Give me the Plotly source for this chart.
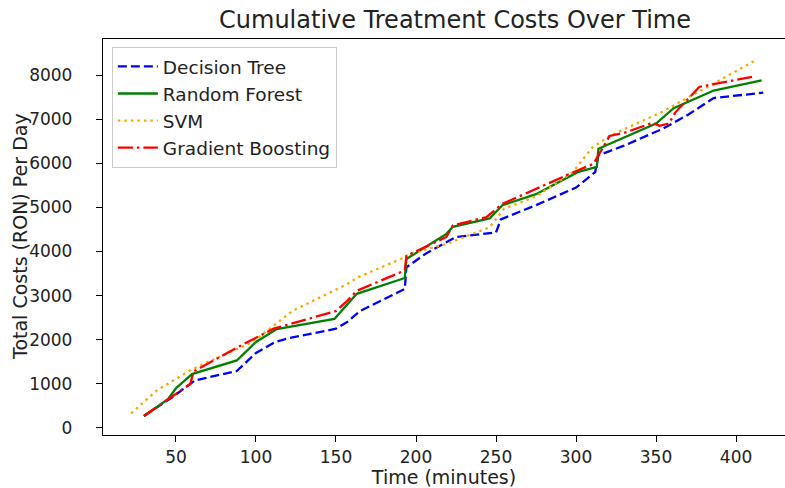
import plotly.graph_objects as go

# Decision Tree
dt_time = [30, 47, 59, 62, 88, 100, 112, 120, 150, 157, 165, 193, 194, 206, 225, 250, 253, 275, 300, 312, 314, 330, 354, 370, 386, 417]
dt_cost = [270, 680, 1000, 1080, 1290, 1700, 1950, 2030, 2250, 2400, 2650, 3150, 3640, 3950, 4330, 4430, 4730, 5050, 5450, 5800, 6180, 6400, 6780, 7100, 7480, 7600]

# Random Forest
rf_time = [30, 45, 50, 60, 88, 100, 113, 149, 163, 193, 194, 219, 223, 246, 254, 275, 301, 313, 314, 350, 361, 386, 416]
rf_cost = [270, 650, 900, 1220, 1530, 1950, 2240, 2470, 3040, 3400, 3830, 4400, 4560, 4750, 5050, 5300, 5800, 5920, 6330, 6900, 7250, 7650, 7880]

# SVM
svm_time = [22, 38, 60, 98, 123, 157, 164, 193, 196, 219, 246, 255, 275, 298, 310, 321, 354, 386, 413]
svm_cost = [330, 850, 1330, 1950, 2660, 3260, 3420, 3870, 3950, 4170, 4550, 4970, 5250, 5800, 6350, 6620, 7170, 7810, 8350]

# Gradient Boosting
gb_time = [30, 50, 59, 61, 88, 111, 150, 157, 163, 193, 194, 219, 223, 244, 254, 296, 311, 321, 331, 348, 352, 358, 362, 377, 384, 410]
gb_cost = [270, 780, 1000, 1280, 1820, 2250, 2650, 2880, 3110, 3570, 3900, 4330, 4590, 4780, 5080, 5760, 5990, 6620, 6700, 6920, 6850, 6900, 7150, 7730, 7780, 7960]

x_ticks = [50, 100, 150, 200, 250, 300, 350, 400]
y_ticks = [0, 1000, 2000, 3000, 4000, 5000, 6000, 7000, 8000]

FONT = "DejaVu Sans"
TXT = "#222222"
LW = 2.3

fig = go.Figure()
fig.add_trace(go.Scatter(x=dt_time, y=dt_cost, mode="lines", name="Decision Tree",
                         line=dict(color="blue", width=LW, dash="9px,4px")))
fig.add_trace(go.Scatter(x=rf_time, y=rf_cost, mode="lines", name="Random Forest",
                         line=dict(color="green", width=LW)))
fig.add_trace(go.Scatter(x=svm_time, y=svm_cost, mode="lines", name="SVM",
                         line=dict(color="orange", width=LW, dash="2.5px,4px")))
fig.add_trace(go.Scatter(x=gb_time, y=gb_cost, mode="lines", name="Gradient Boosting",
                         line=dict(color="red", width=LW, dash="15px,4px,2.5px,4px")))

axis_common = dict(showline=True, linecolor="black", linewidth=1.3,
                   ticks="outside", ticklen=6, tickwidth=1.2, tickcolor="black",
                   showgrid=False, zeroline=False, automargin=False,
                   tickfont=dict(family=FONT, size=17, color=TXT))

fig.update_layout(
    width=785, height=488,
    margin=dict(l=103, r=0, t=39, b=53),
    paper_bgcolor="white", plot_bgcolor="white",
    font=dict(family=FONT, size=17, color=TXT),
    title=dict(text="Cumulative Treatment Costs Over Time", x=(455 - 103) / 682, xref="paper",
               y=1 - 20 / 488, yref="container", yanchor="middle", xanchor="center",
               font=dict(family=FONT, size=24, color=TXT)),
    xaxis=dict(range=[4.4, 430.6], tickvals=x_ticks, mirror=True,
               ticklabelstandoff=0,
               title=dict(text="Time (minutes)", standoff=11, font=dict(family=FONT, size=19, color=TXT)),
               **axis_common),
    yaxis=dict(range=[-160, 8818], tickvals=y_ticks, mirror=False,
               ticklabelstandoff=20,
               **axis_common),
    annotations=[dict(text="Total Costs (RON) Per Day", textangle=-90,
                      xref="paper", yref="paper", x=(20 - 103) / 682, y=0.5,
                      xanchor="center", yanchor="middle", showarrow=False,
                      font=dict(family=FONT, size=19, color=TXT))],
    legend=dict(x=0.013, y=0.98, xanchor="left", yanchor="top",
                bgcolor="rgba(255,255,255,0.9)", bordercolor="#cccccc", borderwidth=1,
                font=dict(family=FONT, size=18.5, color=TXT), tracegroupgap=0, itemwidth=40),
    showlegend=True,
)

fig.write_html("out.html")
